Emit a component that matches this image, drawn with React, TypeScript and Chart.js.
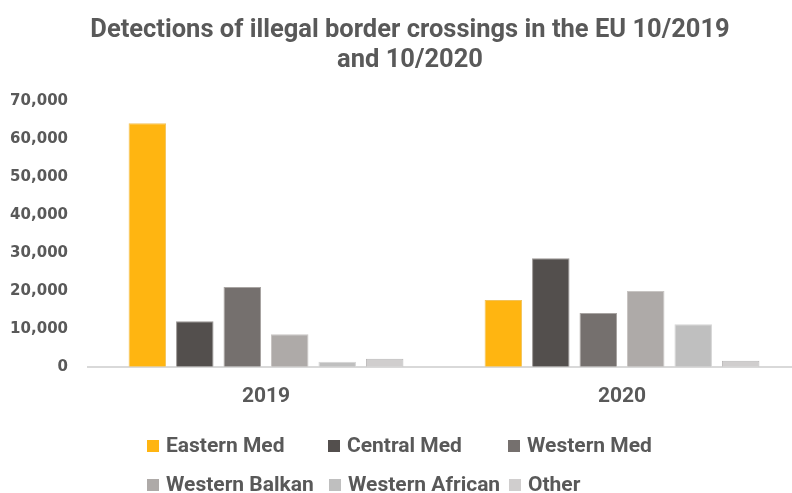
import React, { useEffect, useRef } from "react";
import { Chart, registerables } from "chart.js";

Chart.register(...registerables);

const CATEGORIES = ["2019", "2020"];
const SERIES_NAMES = [
  "Eastern Med",
  "Central Med",
  "Western Med",
  "Western Balkan",
  "Western African",
  "Other",
];
const EASTERN_MED = [64200, 17600];
const CENTRAL_MED = [12000, 28600];
const WESTERN_MED = [21000, 14200];
const WESTERN_BALKAN = [8600, 20000];
const WESTERN_AFRICAN = [1300, 11200];
const OTHER = [2100, 1600];
const SERIES_VALUES = [EASTERN_MED, CENTRAL_MED, WESTERN_MED, WESTERN_BALKAN, WESTERN_AFRICAN, OTHER];
const SERIES_COLORS = ["#FFB511", "#534F4D", "#75706E", "#AEAAA8", "#BFBFBF", "#D0CECE"];
const SERIES_BORDERS = ["#F2C25A", "#9A9694", "#A8A4A2", "#C8C5C3", "#D4D4D4", "#B8B6B6"];
const TITLE_LINES = ["Detections of illegal border crossings in the EU 10/2019", "and 10/2020"];
const Y_MAX = 70000;
const Y_STEP = 10000;

const TEXT_COLOR = "#595959";

// legend layout (rows of item indices with their left x)
const LEGEND_ROWS = [
  { y: 446, items: [0, 1, 2], xs: [147, 328, 508] },
  { y: 485, items: [3, 4, 5], xs: [147, 329, 509] },
];

const legendPlugin = {
  id: "customLegend",
  afterDraw(chart: any) {
    const ctx = chart.ctx;
    ctx.save();
    ctx.font = "bold 21px Roboto";
    ctx.textBaseline = "middle";
    ctx.textAlign = "left";
    LEGEND_ROWS.forEach((row) => {
      row.items.forEach((idx, k) => {
        const ds = chart.data.datasets[idx];
        const x = row.xs[k];
        ctx.fillStyle = ds.backgroundColor;
        ctx.fillRect(x, row.y - 6, 12, 12);
        ctx.fillStyle = TEXT_COLOR;
        ctx.fillText(ds.label, x + 19, row.y + 1);
      });
    });
    ctx.restore();
  },
};

export default function App() {
  const ref = useRef<HTMLCanvasElement>(null);
  useEffect(() => {
    if (!ref.current) return;
    const chart = new Chart(ref.current, {
      type: "bar",
      data: {
        labels: CATEGORIES,
        datasets: SERIES_NAMES.map((name, i) => ({
          label: name,
          data: SERIES_VALUES[i],
          backgroundColor: SERIES_COLORS[i],
          borderColor: SERIES_BORDERS[i],
          borderWidth: 1,
          categoryPercentage: 0.8,
          barPercentage: 0.79,
          yAxisID: "y",
        })),
      },
      options: {
        responsive: false,
        animation: false,
        devicePixelRatio: 1,
        layout: { padding: { left: 0, right: 0, top: 0, bottom: 67 } },
        plugins: {
          legend: { display: false },
          tooltip: { enabled: false },
          title: {
            display: true,
            text: TITLE_LINES,
            color: TEXT_COLOR,
            font: { family: "Roboto", size: 25.5, weight: "bold", lineHeight: 1.2 },
            padding: { top: 15, bottom: 25 },
          },
        },
        scales: {
          x: {
            grid: { display: false, drawTicks: false },
            border: { display: true, color: "#D9D9D9", width: 2 },
            ticks: {
              color: TEXT_COLOR,
              font: { family: "Roboto", size: 21, weight: "bold" },
              padding: 17,
            },
          },
          y: {
            min: 0,
            max: Y_MAX,
            grid: { display: false, drawTicks: false },
            border: { display: false },
            ticks: {
              stepSize: Y_STEP,
              color: TEXT_COLOR,
              font: { family: "DejaVu Sans", size: 15, weight: "bold" },
              padding: 20,
              callback: (v: any) => Number(v).toLocaleString("en-US"),
            },
            afterFit: (scale: any) => {
              scale.width = 88;
            },
          },
          yRight: {
            position: "right",
            display: true,
            min: 0,
            max: Y_MAX,
            grid: { display: false, drawTicks: false },
            border: { display: false },
            ticks: { display: false },
            afterFit: (scale: any) => {
              scale.width = 20;
            },
          },
        },
      },
      plugins: [legendPlugin],
    } as any);
    return () => chart.destroy();
  }, []);
  return (
    <div
      style={{
        position: "fixed",
        left: 0,
        top: 0,
        width: 792,
        height: 493,
        overflow: "hidden",
        background: "#ffffff",
      }}
    >
      <canvas ref={ref} width={820} height={493} style={{ display: "block", width: 820, height: 493 }} />
    </div>
  );
}
